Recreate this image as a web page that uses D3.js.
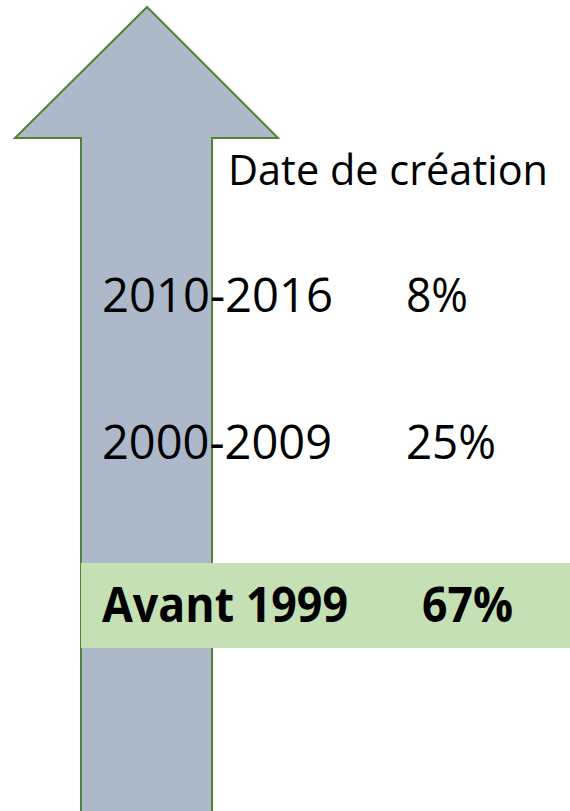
<!DOCTYPE html>
<html>
<head>
<meta charset="utf-8">
<title>Date de création</title>
<script src="https://cdn.jsdelivr.net/npm/d3@7"></script>
<style>
  body { margin: 0; background: #fff; }
  svg text { font-family: "Open Sans", "Noto Sans", sans-serif; fill: #000; }
</style>
</head>
<body>
<div id="chart"></div>
<script>
var categories = ["2010-2016", "2000-2009", "Avant 1999"];
var values = [8, 25, 67];
var highlight = "Avant 1999";
var title = "Date de création";

var width = 570;
var height = 811;

var svg = d3.select("#chart")
  .append("svg")
    .attr("width", width)
    .attr("height", height);

// arrow
var arrow = d3.line()([
  [147, 7], [278, 138], [212, 138], [212, 812], [81, 812], [81, 138], [15, 138]
]) + "Z";

svg.append("path")
  .attr("d", arrow)
  .attr("fill", "#adb9ca")
  .attr("stroke", "#548235")
  .attr("stroke-width", 2);

var rows = categories.map(function(c, i) { return { cat: c, val: values[i] }; });

var yBase = d3.scaleOrdinal().domain(categories).range([312, 459, 622]);
var labelW = d3.scaleOrdinal().domain(categories).range([231, 230, 246]);
var valW = d3.scaleOrdinal().domain(categories).range([62, 90, 91]);

// highlight band
svg.append("rect")
  .attr("x", 81)
  .attr("y", yBase(highlight) - 59)
  .attr("width", width - 81)
  .attr("height", 85)
  .attr("fill", "#c5e0b4");

svg.append("text")
  .attr("x", 228)
  .attr("y", 185)
  .attr("font-size", 42)
  .attr("textLength", 320)
  .attr("lengthAdjust", "spacingAndGlyphs")
  .text(title);

var g = svg.selectAll("g.row")
  .data(rows)
  .enter()
  .append("g")
    .attr("class", "row")
    .attr("font-weight", function(d) { return d.cat === highlight ? "bold" : "normal"; });

g.append("text")
  .attr("x", 102)
  .attr("y", function(d) { return yBase(d.cat); })
  .attr("font-size", 48)
  .attr("textLength", function(d) { return labelW(d.cat); })
  .attr("lengthAdjust", "spacingAndGlyphs")
  .text(function(d) { return d.cat; });

g.append("text")
  .attr("x", function(d) { return d.cat === highlight ? 422 : 406; })
  .attr("y", function(d) { return yBase(d.cat); })
  .attr("font-size", 48)
  .attr("textLength", function(d) { return valW(d.cat); })
  .attr("lengthAdjust", "spacingAndGlyphs")
  .text(function(d) { return d.val + "%"; });
</script>
</body>
</html>
